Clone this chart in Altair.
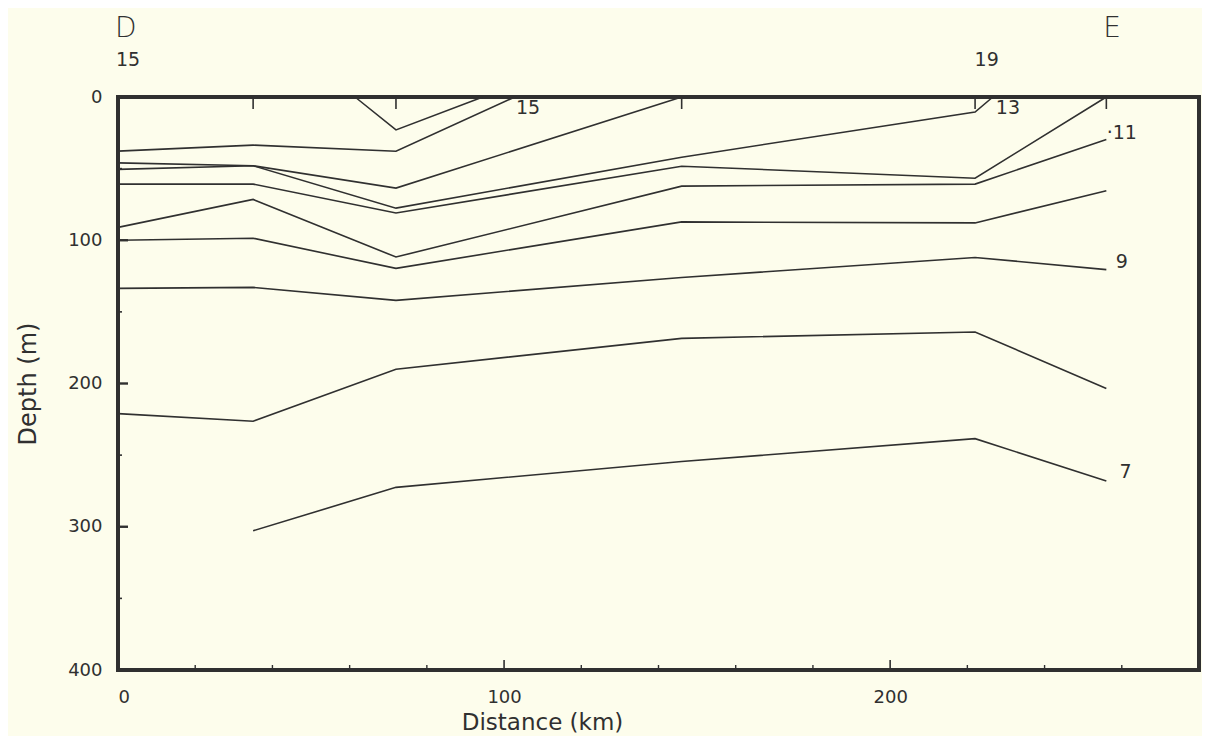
import altair as alt
import pandas as pd

# ---- contour data (temperature isotherms, km along section vs depth m) ----
km_16 = [61.4, 72, 94.5]
depth_16 = [0, 23, 0]
km_15 = [0, 35, 72, 102.8]
depth_15 = [37.8, 33.6, 37.9, 0]
km_14 = [0, 35, 72, 146]
depth_14 = [46, 48, 63.6, 0]
km_13 = [0, 35, 72, 146, 222, 226.6]
depth_13 = [50.5, 48, 77.6, 42, 10.5, 0]
km_12 = [0, 35, 72, 146, 222, 256]
depth_12 = [60.8, 60.8, 81, 48.3, 56.7, 0]
km_11 = [0, 35, 72, 146, 222, 256]
depth_11 = [91, 71.5, 111.7, 62.2, 60.8, 29.6]
km_10 = [0, 35, 72, 146, 222, 256]
depth_10 = [100, 98.6, 119.6, 87.2, 87.9, 65.5]
km_9 = [0, 35, 72, 146, 222, 256]
depth_9 = [133.6, 132.9, 142, 126, 112, 120.5]
km_8 = [0, 35, 72, 146, 222, 256]
depth_8 = [221, 226.3, 190, 168.5, 164, 203.5]
km_7 = [35, 72, 146, 222, 256]
depth_7 = [302.8, 272.5, 254.5, 238.5, 268]

contours = {
    "16": (km_16, depth_16), "15": (km_15, depth_15), "14": (km_14, depth_14),
    "13": (km_13, depth_13), "12": (km_12, depth_12), "11": (km_11, depth_11),
    "10": (km_10, depth_10), "9": (km_9, depth_9), "8": (km_8, depth_8),
    "7": (km_7, depth_7),
}

# contour labels
label_text = ["15", "13", "·11", "9", "7"]
label_km = [106.2, 230.5, 260, 260, 261]
label_depth = [7.7, 7.7, 25.2, 115, 262]

# stations (tick marks along the top)
station_km = [0, 35, 72, 146, 222, 256]

# section end / station number annotations
end_text = ["D", "E"]
end_km = [2, 257.5]
stn_text = ["15", "19"]
stn_km = [2.6, 225]

# axis ticks
x_major = [0, 100, 200]
x_minor = [20, 40, 60, 80, 120, 140, 160, 180, 220, 240, 260]
y_major = [0, 100, 200, 300, 400]
y_minor = [50, 150, 250, 350]

rows = []
for name, (ks, ds) in contours.items():
    for i, (k, d) in enumerate(zip(ks, ds)):
        rows.append({"contour": name, "km": k, "depth": d, "order": i})
lines_df = pd.DataFrame(rows)

W, H = 1081, 573
FONT = "DejaVu Sans"
INK = "#303030"
BG = "#FDFDEC"

xscale = alt.Scale(domain=[0, 280], nice=False, zero=False)
yscale = alt.Scale(domain=[0, 400], nice=False, zero=False, reverse=True)

xaxis = alt.Axis(values=x_major, ticks=False, domain=False, grid=False,
                 labelFont=FONT, labelFontSize=18, labelColor=INK, labelPadding=18,
                 title="Distance (km)", titleFont=FONT, titleFontSize=23,
                 titleFontWeight="normal", titleColor=INK, titlePadding=5,
                 titleX=424, titleAlign="center")
yaxis = alt.Axis(values=y_major, ticks=False, domain=False, grid=False,
                 labelFont=FONT, labelFontSize=18, labelColor=INK, labelPadding=16,
                 title="Depth (m)", titleFont=FONT, titleFontSize=24,
                 titleFontWeight="normal", titleColor=INK, titlePadding=27)


def X():
    return alt.X("km:Q", scale=xscale, axis=xaxis)


def Y():
    return alt.Y("depth:Q", scale=yscale, axis=yaxis)


lines = alt.Chart(lines_df).mark_line(color=INK, strokeWidth=1.6).encode(
    x=X(), y=Y(), detail="contour:N", order="order:Q",
)

stn_df = pd.DataFrame({"km": station_km})
stn_ticks = alt.Chart(stn_df).mark_rule(color=INK, strokeWidth=1.6).encode(
    x=X(), y=alt.value(0), y2=alt.value(12),
)

xmaj_df = pd.DataFrame({"km": x_major})
xmin_df = pd.DataFrame({"km": x_minor})
xmaj_ticks = alt.Chart(xmaj_df).mark_rule(color=INK, strokeWidth=1.6).encode(
    x=X(), y=alt.value(H), y2=alt.value(H - 10))
xmin_ticks = alt.Chart(xmin_df).mark_rule(color=INK, strokeWidth=1.4).encode(
    x=X(), y=alt.value(H), y2=alt.value(H - 5))

ymaj_df = pd.DataFrame({"depth": y_major})
ymin_df = pd.DataFrame({"depth": y_minor})
ymaj_ticks = alt.Chart(ymaj_df).mark_rule(color=INK, strokeWidth=2.4).encode(
    y=Y(), x=alt.value(0), x2=alt.value(10))
ymin_ticks = alt.Chart(ymin_df).mark_rule(color=INK, strokeWidth=1.6).encode(
    y=Y(), x=alt.value(0), x2=alt.value(4))

lab_df = pd.DataFrame({"km": label_km, "depth": label_depth, "text": label_text})
labels = alt.Chart(lab_df).mark_text(font=FONT, fontSize=19, color=INK,
                                      align="center", baseline="middle").encode(
    x=X(), y=Y(), text="text:N",
)

end_df = pd.DataFrame({"km": end_km, "text": end_text})
ends = alt.Chart(end_df).mark_text(font=FONT, fontSize=28, fontWeight=300, color=INK,
                                    align="center", baseline="middle").encode(
    x=X(), y=alt.value(-68), text="text:N",
)

snum_df = pd.DataFrame({"km": stn_km, "text": stn_text})
snums = alt.Chart(snum_df).mark_text(font=FONT, fontSize=19, color=INK,
                                      align="center", baseline="middle").encode(
    x=X(), y=alt.value(-37), text="text:N",
)

chart = alt.layer(
    lines, stn_ticks, xmaj_ticks, xmin_ticks, ymaj_ticks, ymin_ticks, labels, ends, snums
).properties(
    width=W, height=H,
    autosize=alt.AutoSizeParams(type="none"),
    padding={"left": 110, "top": 89, "right": 3, "bottom": 66},
    background=BG,
).configure_view(
    stroke=INK, strokeWidth=4, fill=BG,
)

chart.save("out.html", embed_options={"renderer": "svg", "actions": False})
